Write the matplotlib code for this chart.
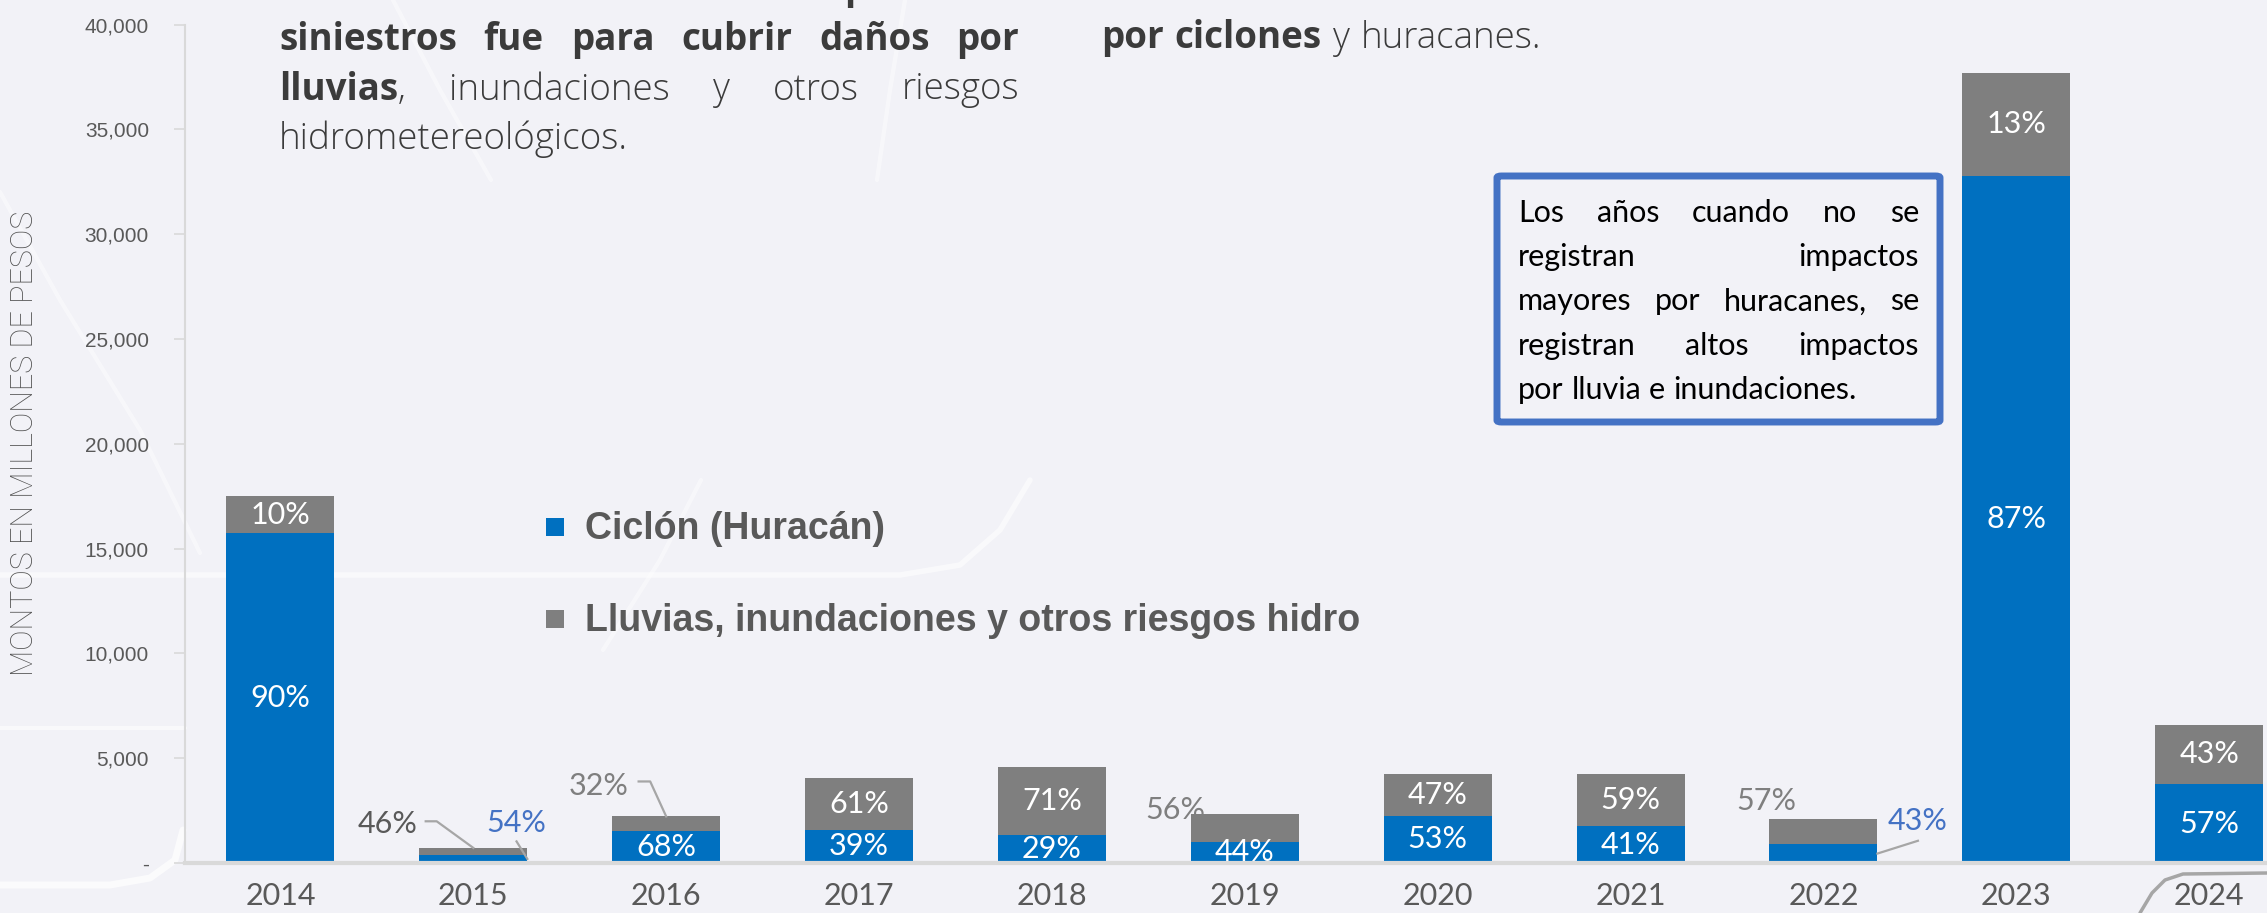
import matplotlib
matplotlib.use("Agg")
import matplotlib.pyplot as plt
from matplotlib.patches import Rectangle, FancyBboxPatch
from matplotlib.lines import Line2D

# ---------------- data ----------------
years = ["2014", "2015", "2016", "2017", "2018", "2019", "2020", "2021", "2022", "2023", "2024"]
ciclon = [15750, 390, 1510, 1580, 1335, 1025, 2250, 1745, 900, 32800, 3760]
lluvias = [1750, 330, 710, 2470, 3265, 1305, 2000, 2505, 1200, 4900, 2840]
pct_ciclon = ["90%", "54%", "68%", "39%", "29%", "44%", "53%", "41%", "43%", "87%", "57%"]
pct_lluvias = ["10%", "46%", "32%", "61%", "71%", "56%", "47%", "59%", "57%", "13%", "43%"]
yticks = [0, 5000, 10000, 15000, 20000, 25000, 30000, 35000, 40000]
ytick_labels = ["-", "5,000", "10,000", "15,000", "20,000", "25,000", "30,000", "35,000", "40,000"]
series_names = ["Ciclón (Huracán)", "Lluvias, inundaciones y otros riesgos hidro"]

# ---------------- style ----------------
W, H = 2267, 913
BG = "#F2F2F7"
BLUE = "#0070C0"
GRAY = "#7F7F7F"
LBLUE = "#4472C4"
DARK = "#595959"
LIGHT_FONT = ["Lato", "DejaVu Sans"]

fig = plt.figure(figsize=(W / 100, H / 100), dpi=100, facecolor=BG)


def fx(px):
    return px / W


def fy(py):
    return 1 - py / H


# decorative background strokes (faint)
deco = [
    ([0, 60, 140, 200], [192, 300, 430, 553], "white", 3, 0.45),
    ([0, 900, 960, 1000, 1030], [575, 575, 565, 530, 480], "white", 4, 0.55),
    ([603, 660, 701], [650, 560, 480], "white", 3, 0.45),
    ([393, 440, 491], [0, 90, 180], "white", 3, 0.45),
    ([905, 890, 877], [0, 90, 180], "white", 3, 0.45),
    ([0, 110, 150, 175, 183], [885, 885, 878, 860, 830], "white", 5, 0.7),
    ([0, 185], [728, 728], "white", 3, 0.6),
    ([2140, 2152, 2165, 2183, 2267], [913, 893, 880, 874, 873], "#A6A6A6", 2.5, 1.0),
]
for xs, ys, c, lw, a in deco:
    fig.add_artist(Line2D([fx(v) for v in xs], [fy(v) for v in ys], color=c,
                          lw=lw, alpha=a, zorder=-5, solid_capstyle="round"))

# ---------------- axes ----------------
ax_left = 185 / W
ax_bottom = 1 - 863 / H
ax_top = 1 - 24.6 / H
ax = fig.add_axes([ax_left, ax_bottom, 1 - ax_left, ax_top - ax_bottom])
ax.patch.set_alpha(0)

x = list(range(len(years)))
bw = 0.56
ax.bar(x, ciclon, width=bw, color=BLUE, zorder=3)
ax.bar(x, lluvias, width=bw, bottom=ciclon, color=GRAY, zorder=3)

ax.set_xlim(-0.495, 10.30)
ax.set_ylim(0, 40000)
ax.set_yticks(yticks)
ax.set_yticklabels(ytick_labels, fontsize=15, color=DARK, family=["Liberation Sans", "DejaVu Sans"])
ax.set_xticks(x)
ax.set_xticklabels(years, fontsize=22, color=DARK, family=LIGHT_FONT)
ax.tick_params(axis="x", length=0, pad=14)
ax.tick_params(axis="y", length=8, width=1.2, color="#D9D9D9", pad=18)
for s in ["top", "right"]:
    ax.spines[s].set_visible(False)
ax.spines["left"].set_color("#D9D9D9")
ax.spines["left"].set_linewidth(1.5)
ax.spines["bottom"].set_color("#D9D9D9")
ax.spines["bottom"].set_linewidth(3)
ax.spines["bottom"].set_zorder(4)

ax.set_ylabel("MONTOS EN MILLONES DE PESOS", fontsize=22, color="#505050",
              family=["Roboto", "DejaVu Sans"], fontweight="light")
ax.yaxis.set_label_coords(-0.070, 0.5)

lab_kw = dict(fontsize=22, family=LIGHT_FONT, ha="center", va="center", zorder=5)

outside_ciclon = {1, 8}
outside_lluvias = {1, 2, 5, 8}

for i in x:
    c = ciclon[i]
    l = lluvias[i]
    if i not in outside_ciclon:
        ax.text(i, c / 2, pct_ciclon[i], color="white", **lab_kw)
    if i not in outside_lluvias:
        ax.text(i, c + l / 2, pct_lluvias[i], color="white", **lab_kw)

# outside labels with leader lines (positions relative to bars)
lead_kw = dict(color="#A6A6A6", lw=1.6, zorder=4)
# 2015
i = 1
tot = ciclon[i] + lluvias[i]
ax.text(i - 0.446, tot + 1130, pct_lluvias[i], color=DARK, **lab_kw)
ax.plot([i - 0.247, i - 0.19, i], [tot + 1270, tot + 1270, tot], **lead_kw)
ax.text(i + 0.22, tot + 1200, pct_ciclon[i], color=LBLUE, **lab_kw)
ax.plot([i + 0.224, i + bw / 2], [tot + 310, ciclon[i] / 2], **lead_kw)
# 2016
i = 2
tot = ciclon[i] + lluvias[i]
ax.text(i - 0.35, tot + 1460, pct_lluvias[i], color=GRAY, **lab_kw)
ax.plot([i - 0.143, i - 0.083, i], [tot + 1670, tot + 1670, tot], **lead_kw)
# 2019
i = 5
tot = ciclon[i] + lluvias[i]
ax.text(i - 0.36, tot + 210, pct_lluvias[i], color=GRAY, **lab_kw)
# 2022
i = 8
tot = ciclon[i] + lluvias[i]
ax.text(i - 0.295, tot + 880, pct_lluvias[i], color=GRAY, **lab_kw)
ax.text(i + 0.49, ciclon[i] + 1080, pct_ciclon[i], color=LBLUE, **lab_kw)
ax.plot([i + 0.49, i + bw / 2], [ciclon[i] + 160, ciclon[i] / 2], **lead_kw)

# ---------------- legend ----------------
leg_colors = [BLUE, GRAY]
leg_y = [539, 631]
for col, yb, name in zip(leg_colors, leg_y, series_names):
    fig.add_artist(Rectangle((fx(546), fy(yb - 3)), 18 / W, 18 / H, transform=fig.transFigure,
                             facecolor=col, edgecolor="none"))
    fig.text(fx(585), fy(yb), name, fontsize=27, fontweight="bold", color=DARK,
             family=["Liberation Sans", "DejaVu Sans"], va="baseline", ha="left")

# ---------------- justified text helpers ----------------
renderer = fig.canvas.get_renderer()


def width_px(t):
    return t.get_window_extent(renderer).width


def place_line(words, x0, x1, y, justify, space_px, **common):
    groups = []
    for w in words:
        arts = []
        for txt, weight in w:
            arts.append(fig.text(0, fy(y), txt, fontweight=weight, va="baseline", ha="left", **common))
        groups.append(arts)
    widths = [sum(width_px(a) for a in g) for g in groups]
    if justify and len(groups) > 1:
        gap = (x1 - x0 - sum(widths)) / (len(groups) - 1)
    else:
        gap = space_px
    cx = x0
    for g, wd in zip(groups, widths):
        xx = cx
        for a in g:
            a.set_x(fx(xx))
            xx += width_px(a)
        cx += wd + gap


def words_of(s, weight):
    return [[(w, weight)] for w in s.split()]


para_kw = dict(fontsize=26.5, color="#3B3B3B", family=["Open Sans", "DejaVu Sans"])
PX0, PX1 = 279, 1019
place_line(words_of("Poco más de 1 de cada 4 pesos de", "bold"), PX0, PX1, -1, True, 10, **para_kw)
place_line(words_of("siniestros fue para cubrir daños por", "bold"), PX0, PX1, 50, True, 10, **para_kw)
line3 = [[("lluvias", "bold"), (",", "light")]] + words_of("inundaciones y otros riesgos", "light")
place_line(line3, PX0, PX1, 99.5, True, 10, **para_kw)
place_line(words_of("hidrometereológicos.", "light"), PX0, PX1, 149, False, 10, **para_kw)

right_line = words_of("por ciclones", "bold") + words_of("y huracanes.", "light")
place_line(right_line, 1101, 1600, 48, False, 11, **para_kw)

# ---------------- annotation box ----------------
box = FancyBboxPatch((fx(1497), fy(422)), (1940 - 1497) / W, (422 - 176) / H,
                     boxstyle="round,pad=0,rounding_size=0.002", transform=fig.transFigure,
                     facecolor=BG, edgecolor=LBLUE, linewidth=5, zorder=6)
fig.add_artist(box)
box_kw = dict(fontsize=22, color="black", family=["Lato", "DejaVu Sans"], zorder=7)
BX0, BX1 = 1518, 1919
box_lines = [
    ("Los años cuando no se", True),
    ("registran impactos", True),
    ("mayores por huracanes, se", True),
    ("registran altos impactos", True),
    ("por lluvia e inundaciones.", False),
]
for k, (s, j) in enumerate(box_lines):
    place_line(words_of(s, "normal"), BX0, BX1, 221.7 + k * 44.3, j, 8, **box_kw)

fig.savefig("out.png", dpi=100, facecolor=BG)
